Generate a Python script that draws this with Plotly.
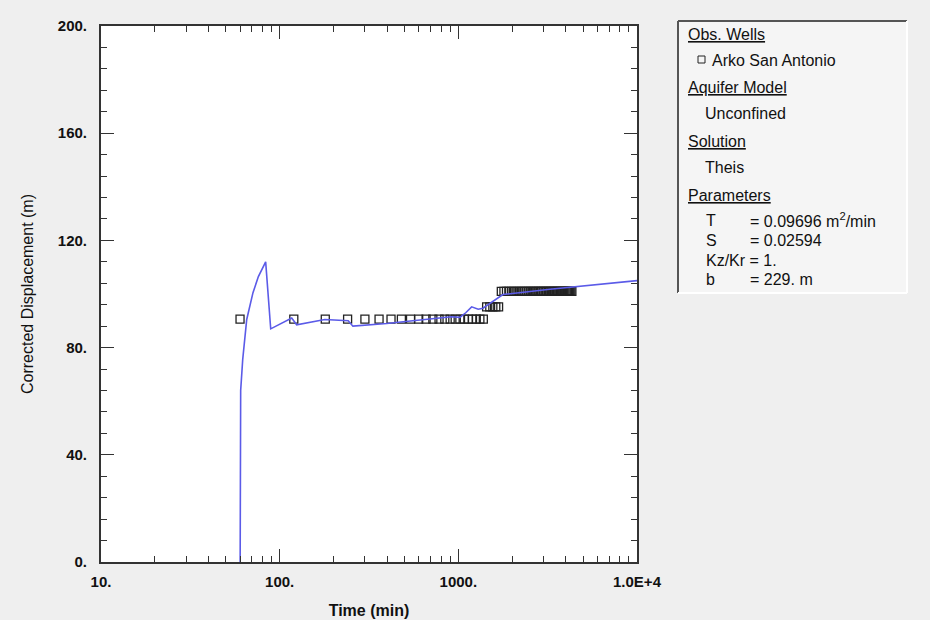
import plotly.graph_objects as go

# ---- data ----
obs_time = [60, 120, 180, 240, 300, 360, 420, 480, 540, 600, 660, 720, 780, 840, 900,
            960, 1020, 1080, 1140, 1200, 1260, 1320, 1380,
            1440, 1500, 1560, 1620, 1680,
            1740, 1800, 1860, 1920, 1980, 2040, 2100, 2160, 2220, 2280, 2340, 2400,
            2460, 2520, 2580, 2640, 2700, 2760, 2820, 2880, 2940, 3000, 3060, 3120,
            3180, 3240, 3300, 3360, 3420, 3480, 3540, 3600, 3660, 3720, 3780, 3840,
            3900, 3960, 4020, 4080, 4140, 4200, 4260, 4320]
obs_disp = [90.6] * 23 + [95.2] * 5 + [101.0] * 44

curve_time = [60.1, 60.5, 62.1, 65.4, 70.9, 76.0, 83.5, 89.1, 116.8, 124.5, 179, 242, 257,
              397, 610, 917, 1021, 1100, 1187, 1292, 1373, 1776, 3255, 10000]
curve_disp = [0, 64, 75.5, 90.5, 100.5, 106.5, 112, 87, 91, 88.5, 90.5, 90, 88,
              89, 90.3, 91.5, 91.3, 93, 95.2, 94.3, 94.7, 99.8, 101.8, 105]

x_tickvals = [10, 100, 1000, 10000]
x_ticktext = ["10.", "100.", "1000.", "1.0E+4"]
x_minor = [20, 30, 40, 50, 60, 70, 80, 90,
           200, 300, 400, 500, 600, 700, 800, 900,
           2000, 3000, 4000, 5000, 6000, 7000, 8000, 9000]
y_tickvals = [0, 40, 80, 120, 160, 200]
y_ticktext = ["0.", "40.", "80.", "120.", "160.", "200."]
y_minor = [8, 16, 24, 32, 48, 56, 64, 72, 88, 96, 104, 112,
           128, 136, 144, 152, 168, 176, 184, 192]

# ---- layout geometry (pixels) ----
W, H = 930, 620
L, R, T, B = 101, 293, 26, 58
PW, PH = W - L - R, H - T - B

def px(x):
    return (x - L) / PW

def py(y):
    return (H - B - y) / PH

FONT = "Liberation Sans, Arial, sans-serif"
INK = "#111111"

fig = go.Figure()
fig.add_trace(go.Scatter(
    x=obs_time, y=obs_disp, mode="markers",
    marker=dict(symbol="square-open", size=8, color="#222222", line=dict(width=1.3)),
    showlegend=False, hoverinfo="x+y"))
fig.add_trace(go.Scatter(
    x=curve_time, y=curve_disp, mode="lines",
    line=dict(color="#5b5be8", width=1.6),
    showlegend=False))

axis_common = dict(
    showline=True, linecolor="#333333", linewidth=2, mirror="ticks",
    ticks="inside", tickcolor="#333333", tickwidth=1.2, ticklen=13,
    showgrid=False, zeroline=False, automargin=False,
    tickfont=dict(family=FONT, size=15, color=INK, weight="bold"),
)

fig.update_xaxes(
    type="log", range=[1, 4], tickmode="array", tickvals=x_tickvals, ticktext=x_ticktext,
    minor=dict(ticks="inside", ticklen=6, tickwidth=1.2, tickcolor="#333333",
               tickmode="array", tickvals=x_minor, showgrid=False),
    ticklabelstandoff=5,
    title=dict(text="Time (min)", font=dict(family=FONT, size=16, color=INK, weight="bold"), standoff=16),
    **axis_common)
fig.update_yaxes(
    range=[0, 200], tickmode="array", tickvals=y_tickvals, ticktext=y_ticktext,
    minor=dict(ticks="inside", ticklen=6, tickwidth=1.2, tickcolor="#333333",
               tickmode="array", tickvals=y_minor, showgrid=False),
    ticklabelstandoff=9,
    title=dict(text="Corrected Displacement (m)", font=dict(family=FONT, size=16, color=INK), standoff=20),
    **axis_common)

# ---- info panel ----
shapes = [
    dict(type="rect", xref="paper", yref="paper", x0=px(678), x1=px(907), y0=py(293), y1=py(21),
         fillcolor="#f5f5f5", line=dict(width=0), layer="below"),
    dict(type="line", xref="paper", yref="paper", x0=px(678), x1=px(907), y0=py(21), y1=py(21),
         line=dict(color="#555555", width=2)),
    dict(type="line", xref="paper", yref="paper", x0=px(678), x1=px(678), y0=py(21), y1=py(293),
         line=dict(color="#555555", width=2)),
    dict(type="line", xref="paper", yref="paper", x0=px(678), x1=px(907), y0=py(293), y1=py(293),
         line=dict(color="#ffffff", width=2)),
    dict(type="line", xref="paper", yref="paper", x0=px(907), x1=px(907), y0=py(21), y1=py(293),
         line=dict(color="#ffffff", width=2)),
    dict(type="rect", xref="paper", yref="paper", x0=px(698), x1=px(705), y0=py(63), y1=py(56),
         line=dict(color="#222222", width=1), fillcolor="rgba(0,0,0,0)"),
]

panel_text = [
    (686, 35, "<u>Obs. Wells</u>"),
    (710, 60, "Arko San Antonio"),
    (686, 88, "<u>Aquifer Model</u>"),
    (703, 113, "Unconfined"),
    (686, 142, "<u>Solution</u>"),
    (703, 167, "Theis"),
    (686, 196, "<u>Parameters</u>"),
    (704, 220, "T"), (748, 220, "= 0.09696 m<sup>2</sup>/min"),
    (704, 240, "S"), (748, 240, "= 0.02594"),
    (704, 260, "Kz/Kr = 1."),
    (704, 279, "b"), (748, 279, "= 229. m"),
]
annotations = []
for x, y, t in panel_text:
    annotations.append(dict(
        x=px(x), y=py(y), xref="paper", yref="paper", text=t, showarrow=False,
        xanchor="left", yanchor="middle", font=dict(family=FONT, size=16, color=INK)))

fig.update_layout(
    width=W, height=H, margin=dict(l=L, r=R, t=T, b=B),
    paper_bgcolor="#efefef", plot_bgcolor="#ffffff",
    shapes=shapes, annotations=annotations, showlegend=False,
)

fig.write_html("out.html")
